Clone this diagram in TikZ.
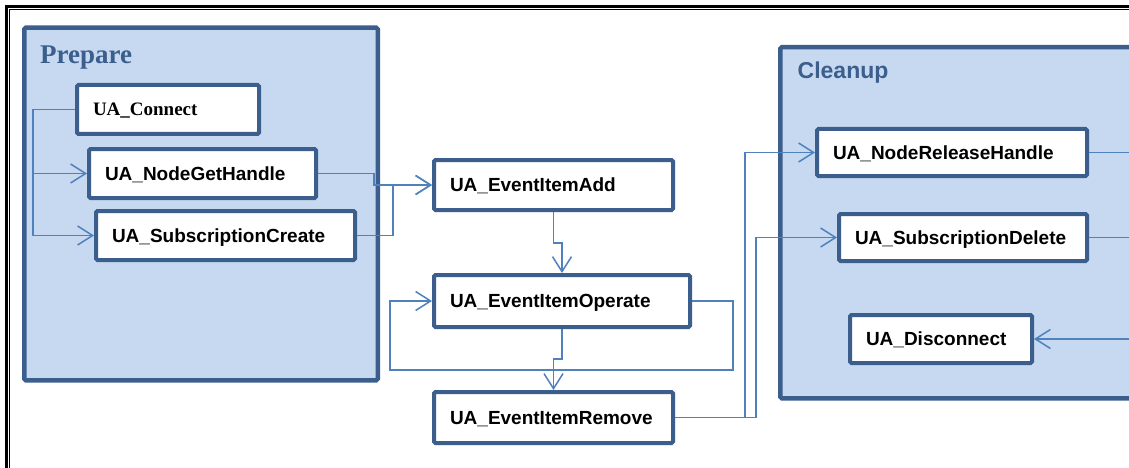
\documentclass[tikz,border=0pt]{standalone}
\usepackage{fontspec}
\setmainfont{Liberation Serif}
\setsansfont{Liberation Sans}
\usetikzlibrary{arrows.meta}
\definecolor{frameblue}{HTML}{3B5E8C}
\definecolor{panelfill}{HTML}{C6D9F1}
\definecolor{wireblue}{HTML}{4F81BD}
\begin{document}
\begin{tikzpicture}[x=1pt,y=-1pt,
  group/.style={draw=frameblue, line width=4.5pt, fill=panelfill, rounded corners=1.5pt,
    inner sep=0pt, anchor=north west},
  grouplabel/.style={anchor=base west, text=frameblue, inner sep=0pt},
  fn/.style={draw=frameblue, line width=4pt, fill=white, rounded corners=1.5pt,
    inner xsep=16pt, inner ysep=0pt, align=left, anchor=north west,
    font=\sffamily\bfseries\fontsize{19}{21}\selectfont, text height=13.6pt, text depth=0pt},
  fnserif/.style={font=\rmfamily\bfseries\fontsize{19}{21}\selectfont, text height=12.6pt},
  flow/.style={draw=wireblue, line width=1.5pt,
    -{Straight Barb[length=15pt,width=19pt,line width=1.5pt]}},
  wire/.style={draw=wireblue, line width=1.5pt}]
\clip (0,0) rectangle (1129,468);
\fill[white] (0,0) rectangle (1129,468);

% page frame (thick/thin double rule)
\draw[line width=2.6pt] (6.6,1200) -- (6.6,6.8) -- (1200,6.8);
\draw[line width=0.9pt] (9.8,1200) -- (9.8,9.6) -- (1200,9.6);

% phase panels
\node[group, minimum width=353.5pt, minimum height=352.5pt] (prepare) at (22,25.5) {};
\node[grouplabel, font=\rmfamily\bfseries\fontsize{27}{30}\selectfont] (preparelabel) at (40,64) {Prepare};
\node[group, minimum width=417.5pt, minimum height=351pt] (cleanup) at (778,45) {};
\node[grouplabel, font=\sffamily\bfseries\fontsize{23}{26}\selectfont] (cleanuplabel) at (797.5,79) {Cleanup};

% function blocks
\node[fn, fnserif, text width=150pt, minimum height=49pt] (connect) at (75,83) {UA\_Connect};
\node[fn, text width=195pt, minimum height=49pt] (nodeget) at (87,147) {UA\_NodeGetHandle};
\node[fn, text width=227pt, minimum height=49pt] (subcreate) at (94,209) {UA\_SubscriptionCreate};
\node[fn, text width=207pt, minimum height=50pt] (eventadd) at (432,158) {UA\_EventItemAdd};
\node[fn, text width=224pt, minimum height=52pt] (eventop) at (432,273) {UA\_EventItemOperate};
\node[fn, text width=207pt, minimum height=51pt] (eventrem) at (432,390) {UA\_EventItemRemove};
\node[fn, text width=238pt, minimum height=47pt] (noderel) at (815,127) {UA\_NodeReleaseHandle};
\node[fn, text width=216pt, minimum height=47pt] (subdel) at (837,212) {UA\_SubscriptionDelete};
\node[fn, text width=150pt, minimum height=48pt] (disc) at (848,313) {UA\_Disconnect};

% sequence connectors
\draw[flow] (connect.west) -- ++(-42,0) |- (nodeget.west);
\draw[flow] (connect.west) -- ++(-42,0) |- (subcreate.west);
\draw[flow] (nodeget.east) -- ++(56,0) |- (eventadd.west);
\draw[flow] (subcreate.east) -- ++(36,0) |- (eventadd.west);
\draw[flow] (eventadd.south) -- ++(0,31) -| (eventop.north);
\draw[flow] (eventop.east) -- ++(41,0) -- ++(0,69) -- ++(-343,0) |- (eventop.west);
\draw[flow] (eventop.south) -- ++(0,30) -| (eventrem.north);
\draw[flow] (eventrem.east) -- ++(70,0) |- (noderel.west);
\draw[flow] (eventrem.east) -- ++(81,0) |- (subdel.west);

% return rail on the right
\coordinate (rail) at (1150,0);
\draw[wire] (noderel.east) -- (noderel.east -| rail);
\draw[wire] (subdel.east) -- (subdel.east -| rail);
\draw[flow] (disc.east -| rail) -- (disc.east);
\end{tikzpicture}
\end{document}
